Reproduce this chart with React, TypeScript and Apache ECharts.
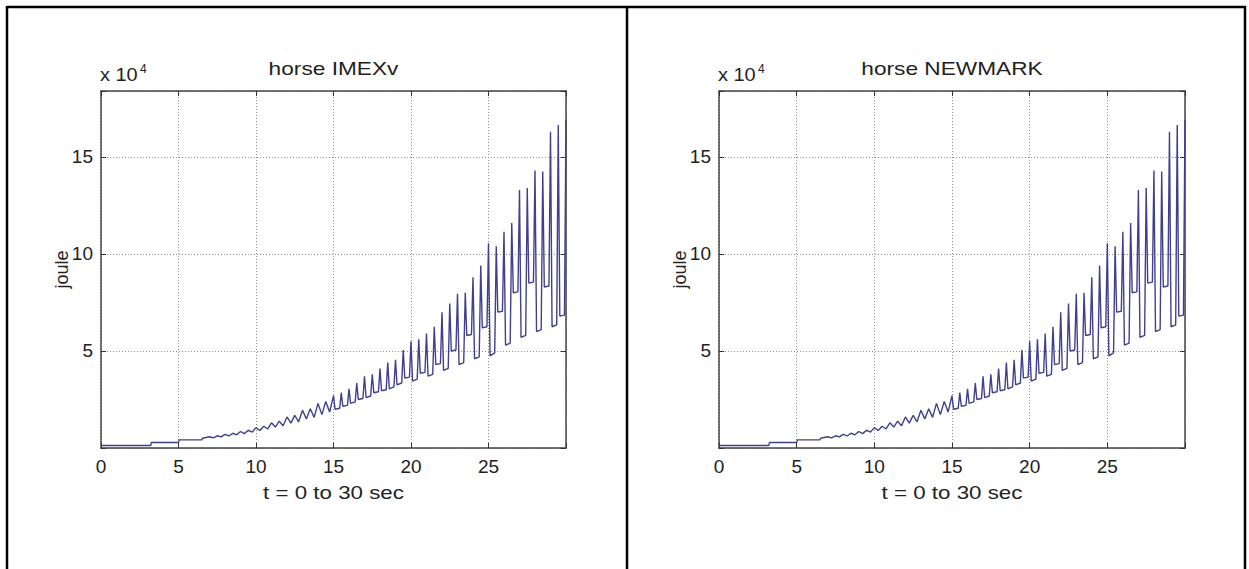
import React, { useEffect, useRef } from "react";
import * as echarts from "echarts";

// Time samples (s) and energy values (x 10^4 joule)
const times: number[] = [
  0, 3.2, 3.25, 5.0, 5.05, 6.5, 6.55,
  7, 7.25, 7.5, 7.75, 8, 8.25, 8.5, 8.75, 9, 9.25, 9.5, 9.75,
  10, 10.25, 10.5, 10.75, 11, 11.25, 11.5, 11.75, 12, 12.25, 12.5, 12.75,
  13, 13.25, 13.5, 13.75, 14, 14.25, 14.5, 14.75,
  15, 15.1, 15.4, 15.5, 15.6, 15.9, 16, 16.1, 16.4, 16.5, 16.6, 16.9,
  17, 17.1, 17.4, 17.5, 17.6, 17.9, 18, 18.1, 18.4, 18.5, 18.6, 18.9,
  19, 19.1, 19.4, 19.5, 19.6, 19.9, 20, 20.1, 20.4, 20.5, 20.6, 20.9,
  21, 21.1, 21.4, 21.5, 21.6, 21.9, 22, 22.1, 22.4, 22.5, 22.6, 22.9,
  23, 23.1, 23.4, 23.5, 23.6, 23.9, 24, 24.1, 24.4, 24.5, 24.6, 24.9,
  25, 25.1, 25.4, 25.5, 25.6, 25.9, 26, 26.1, 26.4, 26.5, 26.6, 26.9,
  27, 27.1, 27.4, 27.5, 27.6, 27.9, 28, 28.1, 28.4, 28.5, 28.6, 28.9,
  29, 29.1, 29.4, 29.5, 29.6, 29.9, 30,
];

const energy: number[] = [
  0.13, 0.13, 0.28, 0.28, 0.42, 0.42, 0.5,
  0.58, 0.52, 0.63, 0.57, 0.70, 0.62, 0.76, 0.68, 0.85, 0.74, 0.92, 0.82,
  1.05, 0.90, 1.12, 0.98, 1.30, 1.08, 1.38, 1.15, 1.60, 1.28, 1.68, 1.35,
  1.95, 1.50, 2.02, 1.58, 2.30, 1.72, 2.40, 1.85,
  2.70, 2.00, 2.05, 2.85, 2.15, 2.20, 3.05, 2.30, 2.38, 3.35, 2.50, 2.55,
  3.70, 2.60, 2.68, 3.80, 2.85, 2.90, 4.10, 2.95, 3.00, 4.40, 3.05, 3.15,
  4.55, 3.25, 3.35, 5.05, 3.60, 3.65, 5.50, 3.45, 3.55, 5.60, 3.85, 3.90,
  5.90, 3.70, 3.80, 6.25, 4.30, 4.35, 7.00, 4.00, 4.10, 7.45, 5.00, 5.05,
  7.95, 4.30, 4.40, 8.00, 5.80, 5.85, 8.80, 4.60, 4.70, 9.40, 6.20, 6.25,
  10.55, 4.75, 4.90, 10.40, 7.00, 7.05, 11.15, 5.30, 5.40, 11.60, 8.00, 8.05,
  13.30, 5.70, 5.80, 13.40, 8.50, 8.55, 14.30, 6.00, 6.10, 14.25, 8.30, 8.35,
  16.30, 6.25, 6.35, 16.65, 6.80, 6.85, 16.90,
];

const panelTitles: string[] = ["horse IMEXv", "horse NEWMARK"];
const xTickValues: number[] = [0, 5, 10, 15, 20, 25];
const yTickValues: number[] = [5, 10, 15];
const xName = "t = 0 to 30 sec";
const yName = "joule";

const FONT = "'Liberation Sans', Arial, sans-serif";

export default function App() {
  const ref = useRef<HTMLDivElement>(null);

  useEffect(() => {
    if (!ref.current) return;
    const chart = echarts.init(ref.current, null, { renderer: "svg" });
    const data = times.map((t, i) => [t, energy[i]]);

    const mkX = (gridIndex: number, position: string, main: boolean) => ({
      type: "value",
      gridIndex,
      position,
      min: 0,
      max: 30,
      interval: 5,
      axisLine: { show: true, onZero: false, lineStyle: { color: "#444", width: 1.5 } },
      axisTick: { show: true, inside: true, length: 5, lineStyle: { color: "#333", width: 1 } },
      axisLabel: main
        ? {
            show: true,
            margin: 9,
            fontSize: 19,
            fontFamily: FONT,
            color: "#222",
            formatter: (v: number) => (xTickValues.includes(v) ? String(v) : ""),
          }
        : { show: false },
      splitLine: main
        ? { show: true, lineStyle: { type: [1, 2], color: "#8a8a8a", width: 1 } }
        : { show: false },
    });

    const mkY = (gridIndex: number, position: string, main: boolean) => ({
      type: "value",
      gridIndex,
      position,
      min: 0,
      max: 18.4,
      interval: 5,
      axisLine: { show: true, onZero: false, lineStyle: { color: "#444", width: 1.5 } },
      axisTick: { show: true, inside: true, length: 5, lineStyle: { color: "#333", width: 1 } },
      axisLabel: main
        ? {
            show: true,
            margin: 8,
            fontSize: 19,
            fontFamily: FONT,
            color: "#222",
            formatter: (v: number) => (yTickValues.includes(v) ? String(v) : ""),
          }
        : { show: false },
      splitLine: main
        ? { show: true, lineStyle: { type: [1, 2], color: "#8a8a8a", width: 1 } }
        : { show: false },
    });

    const grids = [
      { left: 101, top: 91, width: 465, height: 357 },
      { left: 719, top: 91, width: 466, height: 357 },
    ];

    const txt = (size: number) => ({ fontSize: size, fontFamily: FONT, fill: "#222" });

    const graphics: any[] = [
      // table borders
      { type: "line", shape: { x1: 7, y1: 7, x2: 1246, y2: 7 }, style: { stroke: "#000", lineWidth: 2.5 } },
      { type: "line", shape: { x1: 7, y1: 6, x2: 7, y2: 569 }, style: { stroke: "#000", lineWidth: 2.5 } },
      { type: "line", shape: { x1: 627, y1: 6, x2: 627, y2: 569 }, style: { stroke: "#000", lineWidth: 2.5 } },
      { type: "line", shape: { x1: 1245, y1: 6, x2: 1245, y2: 569 }, style: { stroke: "#000", lineWidth: 2.5 } },
    ];

    grids.forEach((g, i) => {
      const cx = g.left + g.width / 2;
      const cy = g.top + g.height / 2;
      graphics.push(
        {
          type: "text",
          x: cx,
          y: 68,
          scaleX: 1.26,
          style: { ...txt(18), text: panelTitles[i], align: "center", verticalAlign: "middle" },
        },
        {
          type: "text",
          x: cx,
          y: 493,
          scaleX: 1.24,
          style: { ...txt(18), text: xName, align: "center", verticalAlign: "middle" },
        },
        {
          type: "text",
          x: g.left - 39,
          y: cy,
          rotation: Math.PI / 2,
          style: { ...txt(18), text: yName, align: "center", verticalAlign: "middle" },
        },
        {
          type: "text",
          x: g.left - 1,
          y: 84,
          scaleX: 1.05,
          style: { ...txt(19), text: "x 10", align: "left", verticalAlign: "bottom" },
        },
        {
          type: "text",
          x: g.left + 39,
          y: 75,
          style: { ...txt(12), text: "4", align: "left", verticalAlign: "bottom" },
        }
      );
    });

    const option: any = {
      animation: false,
      backgroundColor: "#fff",
      grid: grids,
      xAxis: [mkX(0, "bottom", true), mkX(0, "top", false), mkX(1, "bottom", true), mkX(1, "top", false)],
      yAxis: [mkY(0, "left", true), mkY(0, "right", false), mkY(1, "left", true), mkY(1, "right", false)],
      series: [0, 1].map((i) => ({
        type: "line",
        xAxisIndex: i * 2,
        yAxisIndex: i * 2,
        data,
        showSymbol: false,
        symbol: "none",
        lineStyle: { color: "#40408f", width: 1.4 },
        z: 3,
      })),
      graphic: graphics,
    };

    chart.setOption(option);
    return () => chart.dispose();
  }, []);

  return (
    <div
      ref={ref}
      style={{ position: "absolute", left: 0, top: 0, width: 1249, height: 569, background: "#fff" }}
    />
  );
}
